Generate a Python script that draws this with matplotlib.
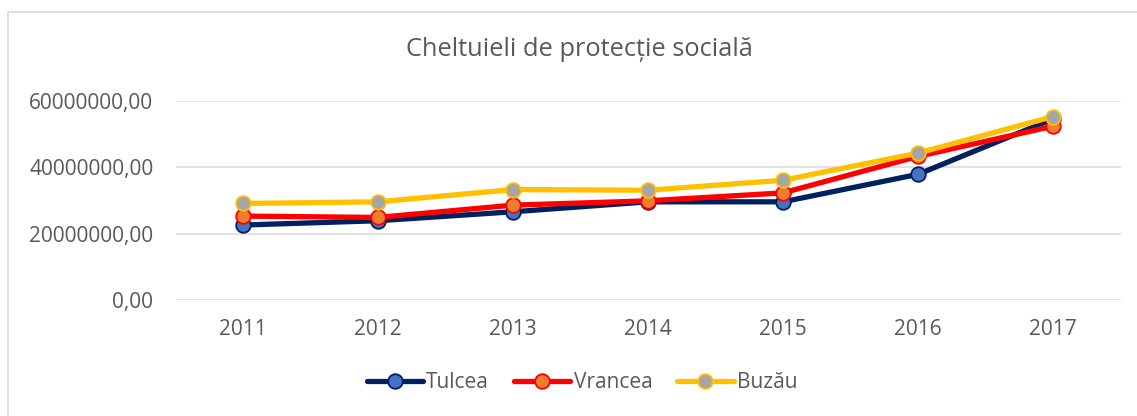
import matplotlib
matplotlib.use("Agg")
import matplotlib.pyplot as plt
from matplotlib.patches import Rectangle
from matplotlib.ticker import FuncFormatter

years = ["2011", "2012", "2013", "2014", "2015", "2016", "2017"]
tulcea = [22.6e6, 23.9e6, 26.6e6, 29.6e6, 29.6e6, 37.9e6, 54.6e6]
vrancea = [25.3e6, 24.9e6, 28.6e6, 29.9e6, 32.3e6, 43.3e6, 52.4e6]
buzau = [29.1e6, 29.6e6, 33.3e6, 33.1e6, 36.1e6, 44.3e6, 55.3e6]
y_ticks = [0, 20e6, 40e6, 60e6]

series = [
    ("Tulcea", tulcea, "#002060", "#4472C4"),
    ("Vrancea", vrancea, "#FF0000", "#ED7D31"),
    ("Buzău", buzau, "#FFC000", "#A5A5A5"),
]

FONT = "Open Sans"
TXT = "#595959"
W, H = 1137, 416

fig = plt.figure(figsize=(W / 100, H / 100), dpi=100)
fig.patch.set_facecolor("white")

# chart-area frame
fig.patches.append(Rectangle((8 / W, -0.05), 1.2, 1 - 12 / H + 0.05,
                             transform=fig.transFigure, fill=False,
                             edgecolor="#D9D9D9", linewidth=1.2))

ax = fig.add_axes([175.5 / W, 1 - 300 / H, 945 / W, 199 / H])
x = list(range(len(years)))
for name, vals, lc, mc in series:
    ax.plot(x, vals, color=lc, linewidth=3.8, marker="o", markersize=10.5,
            markerfacecolor=mc, markeredgecolor=lc, markeredgewidth=1.3,
            label=name, solid_capstyle="round")

ax.set_xlim(-0.5, len(years) - 0.5)
ax.set_ylim(0, 60e6)
ax.set_xticks(x)
ax.set_xticklabels(years)
ax.set_yticks(y_ticks)
ax.yaxis.set_major_formatter(FuncFormatter(lambda v, p: f"{v:.2f}".replace(".", ",")))
ax.grid(axis="y", color="#D9D9D9", linewidth=1.1)
ax.set_axisbelow(True)
for s in ax.spines.values():
    s.set_visible(False)
ax.tick_params(axis="both", length=0, labelcolor=TXT, labelsize=15)
ax.tick_params(axis="y", pad=16)
ax.tick_params(axis="x", pad=14)
for lab in ax.get_xticklabels() + ax.get_yticklabels():
    lab.set_family(FONT)
for ln in ax.lines:
    ln.set_clip_on(False)

fig.text(579 / W, 1 - 50 / H, "Cheltuieli de protecție socială", ha="center",
         va="center", fontsize=18.3, color=TXT, family=FONT)

leg = fig.legend(loc="center", bbox_to_anchor=(582 / W, 1 - 383 / H), ncol=3,
                 frameon=False, handlelength=2.7, handletextpad=0.15,
                 columnspacing=1.2, prop={"family": FONT, "size": 15})
for t in leg.get_texts():
    t.set_color(TXT)

fig.savefig("out.png", dpi=100, facecolor="white")
